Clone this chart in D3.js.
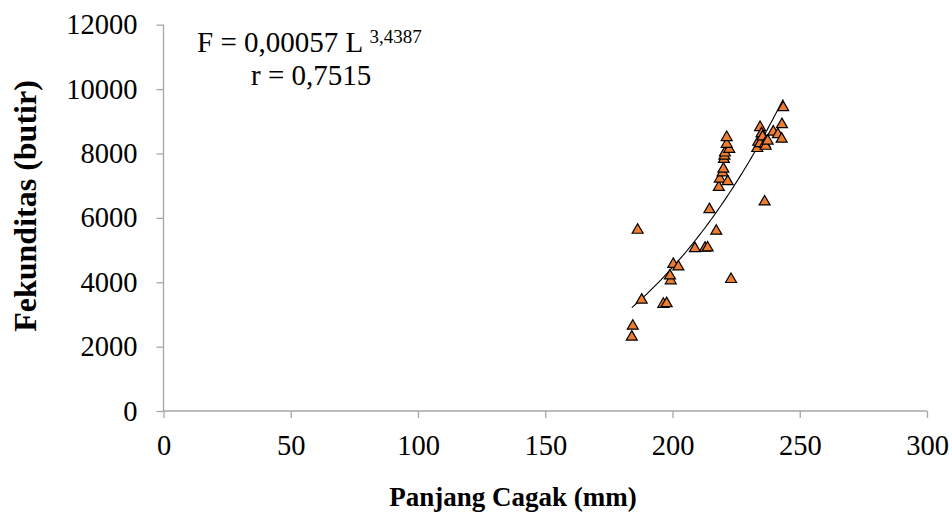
<!DOCTYPE html>
<html>
<head>
<meta charset="utf-8">
<script src="https://cdn.jsdelivr.net/npm/d3@7"></script>
<style>
  html, body { margin: 0; padding: 0; background: #fff; }
  svg text { font-family: "Liberation Serif", "Times New Roman", serif; fill: #000; }
</style>
</head>
<body>
<svg id="chart" width="952" height="526"></svg>
<script>
// ---- data ----
const panjang = [184.0, 184.4, 186.3, 187.9, 196.4, 197.7, 199.3, 199.0, 200.3, 202.3,
  208.8, 212.8, 213.8, 214.5, 217.2, 223.0, 218.2, 218.6, 221.7, 219.7,
  220.0, 220.2, 220.4, 220.6, 222.3, 221.3, 221.3, 233.3, 233.7, 234.4,
  234.4, 235.0, 235.4, 236.3, 236.6, 237.4, 239.6, 241.4, 242.9, 243.0,
  243.5, 236.2];
const fekunditas = [2300, 2640, 5620, 3450, 3320, 3340, 4050, 4200, 4560, 4480,
  5050, 5060, 5070, 6260, 5590, 4090, 6950, 7210, 7130, 7400,
  7520, 7820, 7920, 8020, 8130, 8290, 8500, 8160, 8360, 8310,
  8810, 8620, 8520, 8290, 8230, 8390, 8670, 8590, 8450, 8900,
  9430, 6500];
// power trendline as drawn in the picture: F = trendCoef * L ^ trendExp
const trendCoef = 3.79e-6;
const trendExp = 3.942;
const xTicks = [0, 50, 100, 150, 200, 250, 300];
const yTicks = [0, 2000, 4000, 6000, 8000, 10000, 12000];
const equationMain = "F = 0,00057 L ";
const equationExp = "3,4387";
const equationR = "r = 0,7515";
const xTitle = "Panjang Cagak (mm)";
const yTitle = "Fekunditas (butir)";

// ---- layout ----
const svg = d3.select("#chart");
const mLeft = 163.5, mRight = 927, mTop = 24.7, mBottom = 411;
const x = d3.scaleLinear().domain([0, 300]).range([mLeft, mRight]);
const y = d3.scaleLinear().domain([0, 12000]).range([mBottom, mTop]);
const axisColor = "#a6a6a6";
const fontSize = 28.5;

// axes
const xAxis = svg.append("g").attr("transform", `translate(0,${mBottom})`)
  .call(d3.axisBottom(x).tickValues(xTicks).tickSize(7).tickPadding(17).tickFormat(d3.format("d")));
const yAxis = svg.append("g").attr("transform", `translate(${mLeft},0)`)
  .call(d3.axisLeft(y).tickValues(yTicks).tickSize(7).tickPadding(19).tickFormat(d3.format("d")));
[xAxis, yAxis].forEach(g => {
  g.select(".domain").attr("stroke", axisColor).attr("stroke-width", 1.3);
  g.selectAll(".tick line").attr("stroke", axisColor).attr("stroke-width", 1.3);
  g.selectAll(".tick text").style("font-family", '"Liberation Serif", serif')
    .style("font-size", fontSize + "px").attr("fill", "#000");
});
xAxis.select(".domain").attr("d", `M${mLeft},0H${mRight}`);
yAxis.select(".domain").attr("d", `M0,${mBottom}V${mTop}`);

// ---- power trendline ----
const xMin = d3.min(panjang), xMax = d3.max(panjang);
const trendPts = d3.range(0, 101).map(i => {
  const xv = xMin + (xMax - xMin) * i / 100;
  return [xv, trendCoef * Math.pow(xv, trendExp)];
});
svg.append("path")
  .datum(trendPts)
  .attr("fill", "none")
  .attr("stroke", "#000")
  .attr("stroke-width", 1.1)
  .attr("d", d3.line().x(d => x(d[0])).y(d => y(d[1])));

// ---- points ----
const tri = d3.symbol().type(d3.symbolTriangle).size(52);
svg.append("g").selectAll("path")
  .data(panjang.map((v, i) => [v, fekunditas[i]]))
  .join("path")
  .attr("d", tri)
  .attr("transform", d => `translate(${x(d[0])},${y(d[1])})`)
  .attr("fill", "#ED7D31")
  .attr("stroke", "#000")
  .attr("stroke-width", 1.2);

// ---- equation ----
const eq = svg.append("text").attr("x", 197).attr("y", 52)
  .style("font-size", "29px");
eq.append("tspan").text(equationMain);
eq.append("tspan").text(equationExp).attr("dy", -9).style("font-size", "19px");
svg.append("text").attr("x", 251).attr("y", 85).style("font-size", "29px").text(equationR);

// ---- titles ----
svg.append("text").attr("x", 513).attr("y", 506)
  .attr("text-anchor", "middle").style("font-size", "27px").style("font-weight", "bold")
  .text(xTitle);
svg.append("text").attr("transform", "translate(36,206) rotate(-90)")
  .attr("text-anchor", "middle").style("font-size", "32px").style("font-weight", "bold")
  .text(yTitle);
</script>
</body>
</html>
